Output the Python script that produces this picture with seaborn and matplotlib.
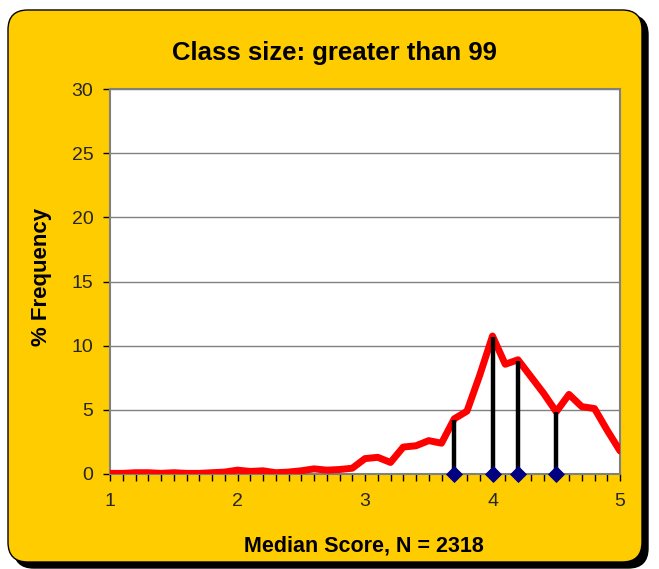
import numpy as np
import pandas as pd
import matplotlib
matplotlib.use("Agg")
import matplotlib.pyplot as plt
import seaborn as sns
from matplotlib.patches import FancyBboxPatch
from matplotlib.ticker import MultipleLocator

# ---- data ----
scores = [1.0, 1.1, 1.2, 1.3, 1.4, 1.5, 1.6, 1.7, 1.8, 1.9,
          2.0, 2.1, 2.2, 2.3, 2.4, 2.5, 2.6, 2.7, 2.8, 2.9,
          3.0, 3.1, 3.2, 3.3, 3.4, 3.5, 3.6, 3.7, 3.8, 3.9,
          4.0, 4.1, 4.2, 4.3, 4.4, 4.5, 4.6, 4.7, 4.8, 4.9, 5.0]
freq = [0.05, 0.05, 0.1, 0.1, 0.05, 0.1, 0.05, 0.05, 0.1, 0.15,
        0.3, 0.2, 0.25, 0.1, 0.15, 0.25, 0.4, 0.3, 0.35, 0.45,
        1.2, 1.3, 0.9, 2.1, 2.2, 2.6, 2.4, 4.3, 4.9, 7.7,
        10.75, 8.55, 8.9, 7.6, 6.3, 4.85, 6.2, 5.25, 5.1, 3.4, 1.8]
stem_x = [3.7, 4.0, 4.2, 4.5]
stem_y = [4.2, 10.7, 8.8, 4.8]
title = "Class size: greater than 99"
xlabel = "Median Score, N = 2318"
ylabel = "% Frequency"

df = pd.DataFrame({"score": scores, "freq": freq})
stems = pd.DataFrame({"x": stem_x, "y": stem_y, "base": [0] * len(stem_x)})

sns.set_style("white")
plt.rcParams["font.family"] = ["Liberation Sans", "DejaVu Sans"]

W, H = 659, 569
fig = plt.figure(figsize=(W / 100, H / 100), dpi=100)
fig.patch.set_facecolor("white")

# background rounded box with shadow
def box(x0, y0, x1, y1, fc, ec, lw, z):
    p = FancyBboxPatch((x0 / W, 1 - y1 / H), (x1 - x0) / W, (y1 - y0) / H,
                       boxstyle="round,pad=0,rounding_size=0.03",
                       transform=fig.transFigure, facecolor=fc, edgecolor=ec,
                       linewidth=lw, zorder=z, mutation_aspect=W / H)
    fig.patches.append(p)

box(14, 15, 648, 568, "black", "black", 1.0, 0)
box(8, 10, 642, 562, "#FFCC00", "black", 1.0, 1)

L, R, T, B = 110, 620, 89, 474
ax = fig.add_axes([L / W, 1 - B / H, (R - L) / W, (B - T) / H])
ax.set_facecolor("white")
ax.set_zorder(2)

sns.lineplot(data=df, x="score", y="freq", ax=ax, color="#FF0000",
             linewidth=5.0, zorder=3, solid_joinstyle="round",
             solid_capstyle="round")
ax.vlines(stems["x"], stems["base"], stems["y"], colors="black",
          linewidth=3.2, zorder=4)
sns.scatterplot(data=stems, x="x", y="base", ax=ax, marker="D", s=65,
                color="#000080", edgecolor="#000080", zorder=5, clip_on=False)

ax.set_xlim(1, 5)
ax.set_ylim(0, 30)
ax.yaxis.set_major_locator(MultipleLocator(5))
ax.xaxis.set_major_locator(MultipleLocator(1))
ax.xaxis.set_minor_locator(MultipleLocator(0.1))
ax.grid(axis="y", color="#808080", linewidth=1.0, zorder=0)
ax.set_axisbelow(True)

for s in ["top", "right", "left", "bottom"]:
    ax.spines[s].set_color("#808080")
    ax.spines[s].set_linewidth(1.5)

ax.tick_params(axis="y", which="major", direction="out", length=5, width=1,
               color="black", labelsize=14, pad=7, left=True)
ax.tick_params(axis="x", which="major", direction="out", length=5, width=1,
               color="black", labelsize=14, pad=9, bottom=True)
ax.tick_params(axis="x", which="minor", direction="out", length=5, width=1,
               color="black", bottom=True)
ax.set_xlabel("")
ax.set_ylabel("")

fig.text(334 / W, 1 - 53 / H, title, ha="center", va="center",
         fontsize=18.5, fontweight="bold", color="black")
fig.text(364 / W, 1 - 546 / H, xlabel, ha="center", va="center",
         fontsize=15.5, fontweight="bold", color="black")
fig.text(42 / W, 1 - 277 / H, ylabel, ha="center", va="center",
         rotation=90, fontsize=16, fontweight="bold", color="black")

fig.savefig("out.png", dpi=100, facecolor=fig.get_facecolor())
